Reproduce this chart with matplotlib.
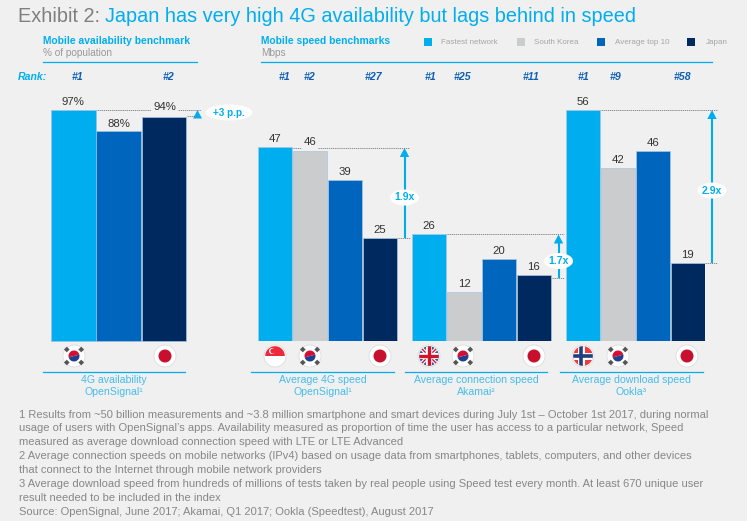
import numpy as np
import matplotlib
matplotlib.use("Agg")
import matplotlib.pyplot as plt
from matplotlib.patches import Circle, Rectangle, Wedge, Polygon, Ellipse

plt.rcParams['font.family'] = ['Liberation Sans', 'DejaVu Sans']

W, H = 747, 521
BG = '#f0f0f0'
CYAN = '#00aeef'
GREY = '#cbcccd'
BLUE = '#0065bd'
NAVY = '#002960'
TXT = '#999999'
RANK = '#0f5fb5'

# data
avail_values = [97, 88, 94]
avail_labels = ['97%', '88%', '94%']
speed_4g = [47, 46, 39, 25]
speed_conn = [26, 12, 20, 16]
speed_dl = [56, 42, 46, 19]
legend_names = ['Fastest network', 'South Korea', 'Average top 10', 'Japan']
multiples = ['1.9x', '1.7x', '2.9x']
group_titles = ['Average 4G speed\nOpenSignal¹', 'Average connection speed\nAkamai²',
                'Average download speed\nOokla³']
footnotes = [
    '1 Results from ~50 billion measurements and ~3.8 million smartphone and smart devices during July 1st – October 1st 2017, during normal',
    'usage of users with OpenSignal’s apps. Availability measured as proportion of time the user has access to a particular network, Speed',
    'measured as average download connection speed with LTE or LTE Advanced',
    '2 Average connection speeds on mobile networks (IPv4) based on usage data from smartphones, tablets, computers, and other devices',
    'that connect to the Internet through mobile network providers',
    '3 Average download speed from hundreds of millions of tests taken by real people using Speed test every month. At least 670 unique user',
    'result needed to be included in the index',
    'Source: OpenSignal, June 2017; Akamai, Q1 2017; Ookla (Speedtest), August 2017',
]

fig = plt.figure(figsize=(W / 100, H / 100), dpi=100, facecolor=BG)

# overlay in pixel coordinates for the furniture
ov = fig.add_axes([0, 0, 1, 1], zorder=3)
ov.set_xlim(0, W)
ov.set_ylim(H, 0)
ov.axis('off')
ov.patch.set_alpha(0)


def make_axes(x0, x1, top_val):
    # bar axes: baseline at pixel 341, top_val at pixel 110
    ax = fig.add_axes([x0 / W, 1 - 341 / H, (x1 - x0) / W, 231 / H], zorder=2)
    ax.set_xlim(x0, x1)
    ax.set_ylim(0, top_val)
    ax.axis('off')
    ax.patch.set_alpha(0)
    return ax


# left panel
ax_l = make_axes(51, 187, 97)
for x, v, c, lab in zip([73.3, 118.5, 164.2], avail_values, [CYAN, BLUE, NAVY], avail_labels):
    ax_l.bar(x, v, width=44.6, color=c, edgecolor='#9fc3e0', linewidth=0.5, clip_on=False)
    if lab != '94%':
        ax_l.annotate(lab, (x, v), xytext=(0, 2), textcoords='offset points', ha='center',
                      va='bottom', fontsize=8.2, color='#333333', annotation_clip=False)

# right panel
ax_r = make_axes(258, 705, 56)
colors = [CYAN, GREY, BLUE, NAVY]
for start, vals in zip([258, 412, 566], [speed_4g, speed_conn, speed_dl]):
    for i, (v, c) in enumerate(zip(vals, colors)):
        x = start + 17.2 + i * 34.8
        ax_r.bar(x, v, width=34, color=c, edgecolor='#a9c6dd', linewidth=0.5)
        if (start, i) != (258, 1):
            ax_r.annotate(str(v), (x, v), xytext=(0, 2), textcoords='offset points', ha='center',
                          va='bottom', fontsize=8.2, color='#333333', annotation_clip=False)

# title
ov.text(18, 16, 'Exhibit 2:', fontsize=14.3, color='#7f7f7f', va='center', ha='left')
ov.text(105, 16, 'Japan has very high 4G availability but lags behind in speed', fontsize=14.3,
        color=CYAN, va='center', ha='left')

# panel headers
ov.text(43, 40.5, 'Mobile availability benchmark', fontsize=7.35, fontweight='bold', color=CYAN, va='center')
ov.text(43, 53.5, '% of population', fontsize=7.2, color=TXT, va='center')
ov.plot([43, 197], [61.5, 61.5], color=CYAN, lw=0.9)
ov.text(261, 40.5, 'Mobile speed benchmarks', fontsize=7.35, fontweight='bold', color=CYAN, va='center')
ov.text(261, 53.5, 'Mbps', fontsize=7.2, color=TXT, va='center')
ov.plot([261, 712], [61.5, 61.5], color=CYAN, lw=0.9)

# legend
for lx, tx, c, name in zip([425, 518, 598, 688], [441, 534, 615, 706], colors, legend_names):
    ov.add_patch(Rectangle((lx - 1, 38), 8, 8, color=c, lw=0))
    ov.text(tx, 42, name, fontsize=5.8, color='#a5a5a5', va='center')

# ranks
ov.text(18, 77.5, 'Rank:', fontsize=7.6, fontweight='bold', style='italic', color=CYAN, va='center')
for x, r in zip([78, 169, 285, 310, 373, 431, 462, 531, 584, 616, 682],
                ['#1', '#2', '#1', '#2', '#27', '#1', '#25', '#11', '#1', '#9', '#58']):
    ov.text(x, 77.5, r, fontsize=7.6, fontweight='bold', style='italic', color=RANK, ha='center', va='center')

DOT = dict(color='#777777', lw=0.6, ls=(0, (1.5, 1)))

# left reference + +3 p.p.
ov.plot([97, 201], [109.5, 109.5], **DOT)
ov.text(164.5, 107.5, '94%', fontsize=8.2, color='#333333', ha='center', va='center',
        bbox=dict(fc=BG, ec='none', pad=1.5))
ov.plot([187, 197], [116, 116], **DOT)
ov.add_patch(Polygon([[193, 118.5], [202, 118.5], [197.5, 110]], color=CYAN, lw=0))
ov.add_patch(Ellipse((229, 112.5), 47, 16, color='white', lw=0))
ov.text(229, 112.5, '+3 p.p.', fontsize=7.2, fontweight='bold', color=CYAN, ha='center', va='center')

# 46 label sits on the dotted line
ov.plot([293, 409], [147.5, 147.5], **DOT)
ov.text(310, 142, str(speed_4g[1]), fontsize=8.2, color='#333333', ha='center', va='center',
        bbox=dict(fc=BG, ec='none', pad=1.5))


def multiple(x, ytop, ybot, lab, ylab, lx0=None):
    if lx0 is not None:
        ov.plot([lx0, x + 5], [ytop - 0.5, ytop - 0.5], **DOT)
    ov.plot([x - 7, x + 5], [ybot, ybot], **DOT)
    ov.plot([x, x], [ybot, ytop + 7], color=CYAN, lw=1.5, solid_capstyle='butt')
    ov.add_patch(Polygon([[x - 4.7, ytop + 9], [x + 4.7, ytop + 9], [x, ytop]], color=CYAN, lw=0))
    ov.add_patch(Ellipse((x, ylab), 29, 16, color='white', lw=0, zorder=2.5))
    ov.text(x, ylab, lab, fontsize=7.5, fontweight='bold', color=CYAN, ha='center', va='center')


multiple(404.5, 148, 237.5, multiples[0], 197.5)
multiple(558.5, 234.5, 277.5, multiples[1], 261, lx0=447)
multiple(712, 110, 263, multiples[2], 190.5, lx0=601)


# flags
def base(x, c='white'):
    ov.add_patch(Circle((x, 356), 11, fc='#ffffff', ec='#dddddd', lw=0.6, zorder=2))
    circ = Circle((x, 356), 9.8, fc=c, ec='none', zorder=2)
    ov.add_patch(circ)
    return circ


def japan(x):
    base(x)
    ov.add_patch(Circle((x, 356), 6.5, fc='#c8102e', ec='none', zorder=3))


def korea(x):
    base(x)
    ov.add_patch(Wedge((x, 356), 5.5, -15, 165, fc='#1f3f8f', lw=0, zorder=3))
    ov.add_patch(Wedge((x, 356), 5.5, 165, 345, fc='#d21034', lw=0, zorder=3))
    for sx, sy in [(-1, -1), (1, -1), (-1, 1), (1, 1)]:
        ov.add_patch(Rectangle((x + sx * 7.2 - 2, 356 + sy * 6.5 - 2), 4, 4, fc='#555555', lw=0, zorder=3,
                               angle=45 * sx * sy, rotation_point='center'))


def singapore(x):
    circ = base(x)
    r = Rectangle((x - 11, 345), 22, 11, fc='#ed2939', lw=0, zorder=3)
    ov.add_patch(r)
    r.set_clip_path(circ)
    ov.add_patch(Circle((x - 3, 351), 3, fc='white', lw=0, zorder=4))
    ov.add_patch(Circle((x - 2, 351), 2.6, fc='#ed2939', lw=0, zorder=4))


def uk(x):
    circ = base(x, '#1f3f8f')
    parts = [ov.plot([x - 10, x + 10], [346, 366], color='white', lw=2.8, zorder=3)[0],
             ov.plot([x - 10, x + 10], [366, 346], color='white', lw=2.8, zorder=3)[0],
             ov.plot([x - 10, x + 10], [346, 366], color='#cf142b', lw=1, zorder=3)[0],
             ov.plot([x - 10, x + 10], [366, 346], color='#cf142b', lw=1, zorder=3)[0],
             ov.plot([x, x], [345, 367], color='white', lw=4.5, zorder=3)[0],
             ov.plot([x - 11, x + 11], [356, 356], color='white', lw=4.5, zorder=3)[0],
             ov.plot([x, x], [345, 367], color='#cf142b', lw=2.4, zorder=4)[0],
             ov.plot([x - 11, x + 11], [356, 356], color='#cf142b', lw=2.4, zorder=4)[0]]
    for p in parts:
        p.set_clip_path(circ)


def norway(x):
    circ = base(x, '#ef3b3b')
    parts = [ov.plot([x - 2.5, x - 2.5], [345, 367], color='white', lw=5, zorder=3)[0],
             ov.plot([x - 11, x + 11], [356, 356], color='white', lw=5, zorder=3)[0],
             ov.plot([x - 2.5, x - 2.5], [345, 367], color='#1f3f7f', lw=2.6, zorder=4)[0],
             ov.plot([x - 11, x + 11], [356, 356], color='#1f3f7f', lw=2.6, zorder=4)[0]]
    for p in parts:
        p.set_clip_path(circ)


korea(74)
japan(165)
singapore(275)
korea(310)
japan(380)
uk(429)
korea(463)
japan(534)
norway(583)
korea(618)
japan(687)

# group captions
for x0, x1, t in zip([43, 251, 405, 560], [185, 394, 547, 703],
                     ['4G availability\nOpenSignal¹'] + group_titles):
    ov.plot([x0, x1], [371.5, 371.5], color=CYAN, lw=0.9)
    ov.text((x0 + x1) / 2, 386, t, fontsize=7.55, color='#45bdee', ha='center', va='center', linespacing=1.3)

# footnotes
for i, line in enumerate(footnotes):
    ov.text(19, 414.5 + i * 13.95, line, fontsize=8.05, color='#878787', va='center', ha='left')

fig.savefig('out.png', dpi=100, facecolor=BG)
